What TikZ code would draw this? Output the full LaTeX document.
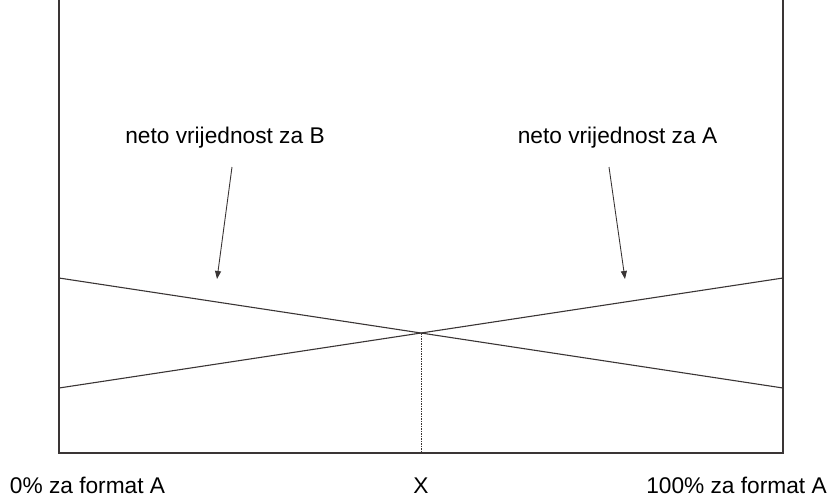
\documentclass[tikz,border=0pt]{standalone}
\usepackage{fontspec}
\setmainfont{Liberation Sans}
\usetikzlibrary{arrows.meta}
\definecolor{ink}{HTML}{3A3535}
\tikzset{
  axisline/.style={draw=ink, line width=1.6pt},
  valueline/.style={draw=ink, line width=1.1pt},
  pointer/.style={draw=ink, line width=0.9pt, -{Triangle[length=8pt,width=6pt]}},
  guide/.style={draw=ink, line width=1pt, dash pattern=on 1.5pt off 1pt},
  lbl/.style={inner sep=0pt, anchor=base, text=black, font=\fontsize{22.7}{27}\selectfont}
}
\begin{document}
\begin{tikzpicture}[x=1pt,y=-1pt]
  \useasboundingbox (0,0) rectangle (830,499);
  % frame corners
  \coordinate (tl) at (59,0);
  \coordinate (bl) at (59,453);
  \coordinate (br) at (783,453);
  \coordinate (tr) at (783,0);
  % line end points
  \coordinate (lhi) at (59,278);
  \coordinate (llo) at (59,388);
  \coordinate (rhi) at (783,278);
  \coordinate (rlo) at (783,388);
  \coordinate (cross) at (421,333);
  \coordinate (xfoot) at (421,453);
  % axes
  \draw[axisline] (tl) -- (bl) -- (br) -- (tr);
  % value lines
  \draw[valueline] (lhi) -- (rlo);
  \draw[valueline] (llo) -- (rhi);
  % dotted guide
  \draw[guide] (cross) -- (xfoot);
  % labels
  \node[lbl] (labB) at (225,143) {neto vrijednost za B};
  \node[lbl] (labA) at (617.5,143) {neto vrijednost za A};
  \node[lbl] (left) at (87.5,493) {0\% za format A};
  \node[lbl] (xlab) at (421,493) {X};
  \node[lbl] (right) at (736.5,493) {100\% za format A};
  % pointers
  \coordinate (bstart) at (232,167);
  \coordinate (btip) at (217,279);
  \coordinate (astart) at (609,167);
  \coordinate (atip) at (625,279);
  \draw[pointer] (bstart) -- (btip);
  \draw[pointer] (astart) -- (atip);
\end{tikzpicture}
\end{document}
